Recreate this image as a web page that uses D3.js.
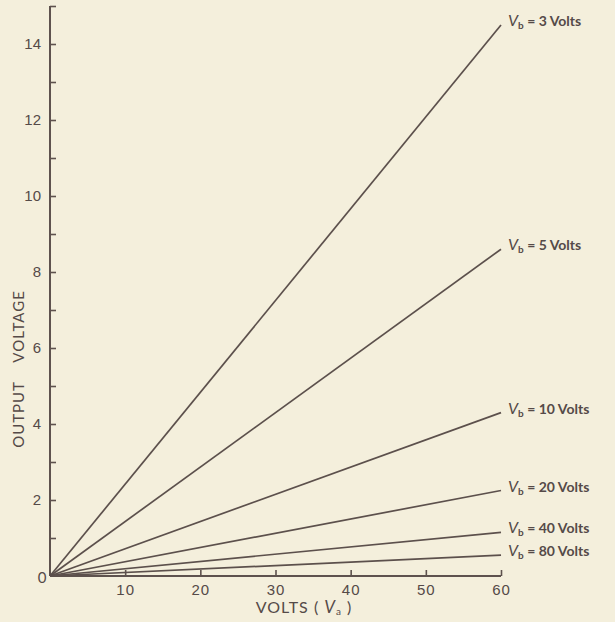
<!DOCTYPE html>
<html>
<head>
<meta charset="utf-8">
<script src="https://cdn.jsdelivr.net/npm/d3@7"></script>
<style>
  body { margin: 0; background: #f4efdc; }
  svg { display: block; font-family: "Lato", "Open Sans", sans-serif; }
  .axis text { fill: #554a48; font-size: 15px; }
  .axis path, .axis line { stroke: #5e524e; }
</style>
</head>
<body>
<div id="chart"></div>
<script>
// Battery voltage for each curve (labels) and output voltage read at Va = 60
const vbValues = ["3", "5", "10", "20", "40", "80"];
const outputAt60 = [14.5, 8.6, 4.3, 2.25, 1.15, 0.55];
const vaPoints = [0, 60];
const xTicks = [10, 20, 30, 40, 50, 60];
const yMajor = [0, 2, 4, 6, 8, 10, 12, 14];
const yMinor = [1, 3, 5, 7, 9, 11, 13, 15];

const width = 615, height = 622;
const ink = "#554a48";

const x = d3.scaleLinear().domain([0, 60]).range([50, 501]);
const y = d3.scaleLinear().domain([0, 15]).range([576, 6]);

const svg = d3.select("#chart").append("svg")
  .attr("width", width)
  .attr("height", height);

svg.append("rect").attr("width", width).attr("height", height).attr("fill", "#f4efdc");

// Y axis: major ticks with labels, minor ticks without
const yAxis = svg.append("g")
  .attr("class", "axis")
  .attr("transform", `translate(${x(0)},0)`)
  .call(d3.axisLeft(y).tickValues(yMajor.filter(d => d > 0)).tickSize(-6).tickPadding(9).tickFormat(d3.format("d")));
yAxis.select(".domain").attr("stroke-width", 2).attr("d", `M0,${y(0)}V${y(15)}`);
yAxis.selectAll(".tick line").attr("stroke-width", 1.6);

svg.append("g")
  .attr("class", "axis")
  .attr("transform", `translate(${x(0)},0)`)
  .call(d3.axisLeft(y).tickValues(yMinor).tickSize(-6).tickFormat(""))
  .call(g => g.select(".domain").remove())
  .selectAll(".tick line").attr("stroke-width", 1.6);

// X axis
const xAxis = svg.append("g")
  .attr("class", "axis")
  .attr("transform", `translate(0,${y(0)})`)
  .call(d3.axisBottom(x).tickValues(xTicks).tickSize(-6).tickPadding(8).tickFormat(d3.format("d")));
xAxis.select(".domain").attr("stroke-width", 2).attr("d", `M${x(0)},0H${x(60)}`);
xAxis.selectAll(".tick line").attr("stroke-width", 1.6);
xAxis.selectAll(".tick text").style("letter-spacing", "1px");

// origin label
svg.append("text")
  .attr("x", x(0) - 8)
  .attr("y", y(0) + 7)
  .attr("text-anchor", "middle")
  .attr("fill", ink)
  .style("font-size", "15px")
  .text("0");

// Lines
const line = d3.line().x(d => x(d[0])).y(d => y(d[1]));
const series = vbValues.map((vb, i) => ({
  vb,
  points: vaPoints.map(va => [va, va === 0 ? 0 : outputAt60[i]])
}));

svg.append("g")
  .selectAll("path")
  .data(series)
  .join("path")
  .attr("d", d => line(d.points))
  .attr("fill", "none")
  .attr("stroke", "#5c504c")
  .attr("stroke-width", 1.7);

// Curve labels
const labels = svg.append("g")
  .selectAll("text")
  .data(series)
  .join("text")
  .attr("x", x(60) + 7)
  .attr("y", d => y(d.points[1][1]) + 1)
  .attr("fill", ink)
  .style("font-size", "14px")
  .style("font-weight", "bold");

labels.append("tspan").style("font-style", "italic").style("font-size", "16px").style("font-weight", "normal").text("V");
labels.append("tspan").attr("dy", 3).style("font-size", "10px").text("b");
labels.append("tspan").attr("dy", -3).text(d => ` = ${d.vb} Volts`);

// Axis titles
const xTitle = svg.append("text")
  .attr("x", 304)
  .attr("y", 613)
  .attr("text-anchor", "middle")
  .attr("fill", ink)
  .style("font-size", "16px")
  .style("letter-spacing", "1px");
xTitle.append("tspan").text("VOLTS ( ");
xTitle.append("tspan").style("font-style", "italic").style("font-size", "17px").text("V");
xTitle.append("tspan").attr("dy", 2).style("font-size", "10px").text("a");
xTitle.append("tspan").attr("dy", -2).text(" )");

svg.append("text")
  .attr("transform", `translate(24,${369}) rotate(-90)`)
  .attr("text-anchor", "middle")
  .attr("fill", ink)
  .style("font-size", "15px")
  .style("letter-spacing", "1px")
  .style("white-space", "pre")
  .text("OUTPUT    VOLTAGE");
</script>
</body>
</html>
